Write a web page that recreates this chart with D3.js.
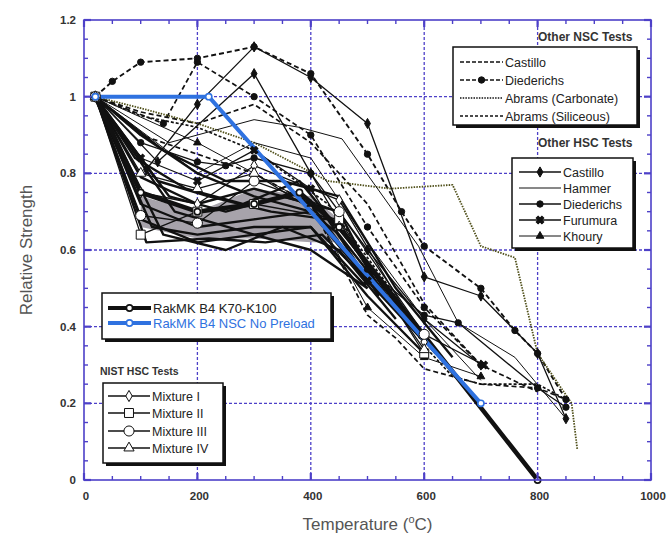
<!DOCTYPE html>
<html>
<head>
<meta charset="utf-8">
<script src="https://cdn.jsdelivr.net/npm/d3@7"></script>
<style>
  body { margin: 0; background: #fff; }
  text { font-family: Arial, "Liberation Sans", sans-serif; }
</style>
</head>
<body>
<svg id="chart" width="669" height="538"></svg>
<script>
// ---- data (temperature in C, relative strength) ----
var xTicks = [0, 200, 400, 600, 800, 1000];
var yTicks = [0, 0.2, 0.4, 0.6, 0.8, 1, 1.2];
var yTickLabels = ["0", "0.2", "0.4", "0.6", "0.8", "1", "1.2"];

// other NSC tests
var nscCastillo   = [[20,1],[100,0.96],[200,0.93],[300,0.98],[400,0.88],[500,0.72],[600,0.46],[700,0.3],[800,0.23]];
var nscCastillo2  = [[20,1],[100,0.9],[200,0.85],[300,0.8],[400,0.72],[500,0.43],[550,0.37],[600,0.29],[700,0.25],[800,0.24],[850,0.21]];
var nscDiederichs = [[20,1],[50,1.04],[100,1.09],[200,1.1],[300,1.13],[400,1.06],[500,0.85],[560,0.7],[600,0.61],[700,0.5],[760,0.39],[800,0.33],[850,0.21]];
var nscDiederichs2= [[20,1],[140,0.93],[200,1.09],[300,1.0],[400,0.9],[500,0.66],[600,0.45],[700,0.3]];
var nscAbramsC    = [[20,1],[100,0.97],[200,0.93],[300,0.88],[430,0.78],[540,0.76],[650,0.77],[700,0.61],[760,0.58],[800,0.33],[860,0.2],[870,0.08]];
var nscAbramsS    = [[20,1],[100,0.95],[200,0.92],[300,0.86],[430,0.72],[540,0.5],[600,0.35],[650,0.27],[700,0.25],[800,0.25],[850,0.21]];

// other HSC tests
var hscCastillo   = [[20,1],[110,0.81],[200,0.98],[300,1.13],[400,1.05],[500,0.93],[600,0.53],[700,0.48],[800,0.33],[850,0.16]];
var hscCastillo2  = [[20,1],[130,0.83],[300,1.06],[400,0.8],[500,0.6],[600,0.42],[700,0.3]];
var hscHammer     = [[20,1],[150,0.88],[300,0.94],[380,0.92],[455,0.89],[590,0.61],[660,0.41],[760,0.32],[850,0.16]];
var hscHammer2    = [[20,1],[200,0.8],[300,0.88],[400,0.84],[500,0.62],[600,0.42],[700,0.26]];
var hscDiederichs = [[20,1],[100,0.88],[200,0.83],[250,0.82],[300,0.84],[400,0.8],[500,0.55],[600,0.43],[660,0.41],[800,0.24],[850,0.19]];
var hscFurumura   = [[20,1],[100,0.84],[200,0.78],[300,0.86],[400,0.76],[500,0.52],[600,0.38],[705,0.3]];
var hscKhoury     = [[20,1],[200,0.88],[300,0.8],[400,0.72],[500,0.45],[600,0.32],[700,0.27]];

// NIST HSC tests
var mixI   = [[20,1],[100,0.75],[200,0.72],[300,0.82],[450,0.73],[600,0.36]];
var mixII  = [[20,1],[100,0.64],[200,0.7],[300,0.72],[450,0.68],[600,0.33]];
var mixIII = [[20,1],[100,0.69],[200,0.67],[300,0.78],[450,0.7],[600,0.38]];
var mixIV  = [[20,1],[100,0.8],[200,0.76],[300,0.8],[450,0.66],[600,0.34]];

// RakMK B4 K70-K100 (individual tests and envelope)
var rak1  = [[20,1],[100,0.79],[200,0.72],[300,0.76],[400,0.72],[500,0.52],[600,0.36]];
var rak2  = [[20,1],[100,0.72],[200,0.66],[300,0.68],[400,0.7],[450,0.64],[550,0.45]];
var rak3  = [[20,1],[120,0.66],[200,0.64],[300,0.66],[400,0.66],[500,0.48],[600,0.33]];
var rak4  = [[20,1],[150,0.74],[250,0.7],[350,0.74],[450,0.7],[520,0.5],[620,0.33]];
var rak5  = [[20,1],[140,0.86],[250,0.78],[350,0.78],[450,0.74],[550,0.5],[650,0.32]];
var rak6  = [[20,1],[110,0.62],[220,0.63],[320,0.62],[420,0.64],[500,0.52],[600,0.38]];
var rak7  = [[20,1],[160,0.7],[300,0.64],[400,0.6],[500,0.5]];
var rak8  = [[20,1],[90,0.84],[180,0.76],[280,0.72],[380,0.78],[480,0.6],[580,0.4]];
var rak9  = [[20,1],[100,0.68],[200,0.62],[300,0.64],[400,0.66],[500,0.5]];
var rak10 = [[20,1],[130,0.78],[220,0.74],[330,0.7],[430,0.68],[520,0.48]];
var rak11 = [[20,1],[100,0.9],[200,0.8],[300,0.74],[400,0.7],[500,0.52]];
var rak12 = [[20,1],[140,0.64],[250,0.6],[350,0.66],[450,0.6],[550,0.42]];
var rakMain = [[20,1],[100,0.75],[200,0.7],[300,0.72],[380,0.75],[450,0.66],[800,0]];
var bandTemps = [100, 200, 300, 400, 450];
var bandUpper = [0.74, 0.7, 0.76, 0.74, 0.68];
var bandLower = [0.66, 0.63, 0.63, 0.62, 0.62];

// RakMK B4 NSC No Preload
var rakNSC = [[20,1],[220,1],[700,0.2]];

// ---- layout ----
var W = 669, H = 538;
var margin = {left: 84, top: 20, right: 18, bottom: 58};
var axisCol = "#4d40c8";

var svg = d3.select("#chart");
svg.append("rect").attr("width", W).attr("height", H).attr("fill", "#fff");

var x = d3.scaleLinear().domain([0, 1000]).range([margin.left, W - margin.right]);
var y = d3.scaleLinear().domain([0, 1.2]).range([H - margin.bottom, margin.top]);

svg.append("clipPath").attr("id", "clip")
  .append("rect").attr("x", x(0)).attr("y", y(1.2))
  .attr("width", x(1000) - x(0)).attr("height", y(0) - y(1.2));

// grid
var grid = svg.append("g");
grid.selectAll(".vg").data([200, 400, 600, 800]).enter().append("line")
  .attr("x1", d => x(d)).attr("x2", d => x(d))
  .attr("y1", y(0)).attr("y2", y(1.2))
  .attr("stroke", axisCol).attr("stroke-width", 1.3).attr("stroke-dasharray", "3,2");
grid.selectAll(".hg").data([0.2, 0.4, 0.6, 0.8, 1.0]).enter().append("line")
  .attr("x1", x(0)).attr("x2", x(1000))
  .attr("y1", d => y(d)).attr("y2", d => y(d))
  .attr("stroke", axisCol).attr("stroke-width", 1.3).attr("stroke-dasharray", "3,2");

var plot = svg.append("g").attr("clip-path", "url(#clip)");

// grey envelope of RakMK K70-K100
var band = bandTemps.map((t, i) => ({t: t, hi: bandUpper[i], lo: bandLower[i]}));
plot.append("path").datum(band)
  .attr("d", d3.area().x(d => x(d.t)).y0(d => y(d.lo)).y1(d => y(d.hi)))
  .attr("fill", "#a7a3ab");

var line = d3.line().x(d => x(d[0])).y(d => y(d[1]));

var series = [
  {data: nscCastillo,    w: 1.7, dash: "5,3"},
  {data: nscCastillo2,   w: 1.7, dash: "5,3"},
  {data: nscDiederichs,  w: 1.9, dash: "5,3", mark: "dot"},
  {data: nscDiederichs2, w: 1.7, dash: "5,3", mark: "dot"},
  {data: nscAbramsC,     w: 1.8, dash: "1.5,1.2", col: "#50501a"},
  {data: nscAbramsS,     w: 1.7, dash: "3,2"},
  {data: hscCastillo,    w: 1.3, mark: "diamond"},
  {data: hscCastillo2,   w: 1.3, mark: "diamond"},
  {data: hscHammer,      w: 1.0},
  {data: hscHammer2,     w: 1.0},
  {data: hscDiederichs,  w: 1.3, mark: "dot"},
  {data: hscFurumura,    w: 1.3, mark: "x"},
  {data: hscKhoury,      w: 1.0, mark: "tri"},
  {data: rak1, w: 2.4}, {data: rak2, w: 2.4}, {data: rak3, w: 2.4}, {data: rak4, w: 2.4},
  {data: rak5, w: 2.4}, {data: rak6, w: 2.4}, {data: rak7, w: 2.4}, {data: rak8, w: 2.4},
  {data: rak9, w: 2.4}, {data: rak10, w: 2.4}, {data: rak11, w: 2.4}, {data: rak12, w: 2.4},
  {data: mixI,   w: 1.3, mark: "odiamond"},
  {data: mixII,  w: 1.3, mark: "osquare"},
  {data: mixIII, w: 1.3, mark: "ocircle"},
  {data: mixIV,  w: 1.3, mark: "otri"},
  {data: rakMain, w: 4.5, mark: "osmall"},
  {data: rakNSC,  w: 4, col: "#2f72e0", mark: "osmallblue"}
];

series.forEach(function(s) {
  plot.append("path").datum(s.data)
    .attr("d", line)
    .attr("fill", "none")
    .attr("stroke", s.col || "#111")
    .attr("stroke-width", s.w)
    .attr("stroke-dasharray", s.dash || null)
    .attr("stroke-linejoin", "round");
});

function drawMark(g, kind, px, py) {
  var sym = null, size = 0, fill = "#111", stroke = "#111", sw = 1;
  if (kind === "dot") { sym = d3.symbolCircle; size = 32; }
  else if (kind === "diamond") { sym = d3.symbolDiamond; size = 30; }
  else if (kind === "tri") { sym = d3.symbolTriangle; size = 26; }
  else if (kind === "x") { sym = d3.symbolCross; size = 36; }
  else if (kind === "odiamond") { sym = d3.symbolDiamond; size = 36; fill = "#fff"; }
  else if (kind === "osquare") { sym = d3.symbolSquare; size = 80; fill = "#fff"; }
  else if (kind === "ocircle") { sym = d3.symbolCircle; size = 80; fill = "#fff"; }
  else if (kind === "otri") { sym = d3.symbolTriangle; size = 45; fill = "#fff"; }
  else if (kind === "osmall") { sym = d3.symbolCircle; size = 30; fill = "#fff"; sw = 1.6; }
  else if (kind === "osmallblue") { sym = d3.symbolCircle; size = 30; fill = "#fff"; stroke = "#2f72e0"; sw = 1.6; }
  if (!sym) return;
  g.append("path").attr("d", d3.symbol().type(sym).size(size)())
    .attr("transform", "translate(" + px + "," + py + ")" + (kind === "x" ? " rotate(45)" : ""))
    .attr("fill", fill).attr("stroke", stroke).attr("stroke-width", sw);
}

var marks = svg.append("g");
series.forEach(function(s) {
  if (!s.mark) return;
  s.data.forEach(function(d) { drawMark(marks, s.mark, x(d[0]), y(d[1])); });
});

// frame and ticks
var frame = svg.append("g");
frame.append("rect").attr("x", x(0)).attr("y", y(1.2))
  .attr("width", x(1000) - x(0)).attr("height", y(0) - y(1.2))
  .attr("fill", "none").attr("stroke", axisCol).attr("stroke-width", 1.6);

var xMinor = d3.range(0, 1001, 50), yMinor = d3.range(0, 1.2001, 0.05);
xMinor.forEach(function(v) {
  var major = v % 200 === 0, len = major ? 7 : 4;
  [[y(0), -len], [y(1.2), len]].forEach(function(e) {
    frame.append("line").attr("x1", x(v)).attr("x2", x(v))
      .attr("y1", e[0]).attr("y2", e[0] + e[1])
      .attr("stroke", axisCol).attr("stroke-width", major ? 2.2 : 1.4);
  });
});
yMinor.forEach(function(v) {
  var major = Math.abs(v / 0.2 - Math.round(v / 0.2)) < 1e-6, len = major ? 7 : 4;
  [[x(0), len], [x(1000), -len]].forEach(function(e) {
    frame.append("line").attr("x1", e[0]).attr("x2", e[0] + e[1])
      .attr("y1", y(v)).attr("y2", y(v))
      .attr("stroke", axisCol).attr("stroke-width", major ? 2.2 : 1.4);
  });
});

// tick labels
svg.selectAll(".xl").data(xTicks).enter().append("text")
  .attr("x", d => x(d) + 2).attr("y", y(0) + 20)
  .attr("text-anchor", "middle").attr("font-size", 11.5).attr("font-weight", "bold")
  .attr("fill", "#333").text(d => d);
svg.selectAll(".yl").data(yTicks).enter().append("text")
  .attr("x", x(0) - 8).attr("y", d => y(d) + 4)
  .attr("text-anchor", "end").attr("font-size", 11.5).attr("font-weight", "bold")
  .attr("fill", "#333").text((d, i) => yTickLabels[i]);

// axis titles
svg.append("text").attr("transform", "translate(32," + ((y(0) + y(1.2)) / 2) + ") rotate(-90)")
  .attr("text-anchor", "middle").attr("font-size", 17).attr("fill", "#555")
  .text("Relative Strength");
var xt = svg.append("text").attr("x", (x(0) + x(1000)) / 2).attr("y", 530)
  .attr("text-anchor", "middle").attr("font-size", 17).attr("fill", "#555");
xt.append("tspan").text("Temperature (");
xt.append("tspan").attr("font-size", 11).attr("dy", -7).text("o");
xt.append("tspan").attr("dy", 7).text("C)");

// ---- legends ----
function legendBox(x0, y0, w, h) {
  svg.append("rect").attr("x", x0 + 3).attr("y", y0 + 3).attr("width", w).attr("height", h).attr("fill", "#111");
  svg.append("rect").attr("x", x0).attr("y", y0).attr("width", w).attr("height", h)
    .attr("fill", "#fff").attr("stroke", "#111").attr("stroke-width", 1.5);
}
function legendItem(lx, ly, len, s, label, tcol, fs) {
  svg.append("line").attr("x1", lx).attr("x2", lx + len).attr("y1", ly).attr("y2", ly)
    .attr("stroke", s.col || "#111").attr("stroke-width", s.w)
    .attr("stroke-dasharray", s.dash || null);
  if (s.mark) drawMark(svg, s.mark, lx + len / 2, ly);
  svg.append("text").attr("x", lx + len + 2).attr("y", ly + 4.5)
    .attr("font-size", fs || 12.5).attr("fill", tcol || "#222").text(label);
}

svg.append("text").attr("x", 538).attr("y", 41)
  .attr("font-size", 12).attr("font-weight", "bold").attr("fill", "#333").text("Other NSC Tests");
legendBox(453, 47, 184, 78);
legendItem(460, 62, 43, {w: 1.6, dash: "4,2"}, "Castillo");
legendItem(460, 80, 43, {w: 1.6, dash: "4,2", mark: "dot"}, "Diederichs");
legendItem(460, 98, 43, {w: 1.6, dash: "1.5,1.2"}, "Abrams (Carbonate)");
legendItem(460, 116, 43, {w: 1.6, dash: "3,2"}, "Abrams (Siliceous)");

svg.append("text").attr("x", 538).attr("y", 147)
  .attr("font-size", 12).attr("font-weight", "bold").attr("fill", "#333").text("Other HSC Tests");
legendBox(512, 158, 121, 90);
legendItem(519, 172, 42, {w: 1.3, mark: "diamond"}, "Castillo");
legendItem(519, 188, 42, {w: 1.0}, "Hammer");
legendItem(519, 204, 42, {w: 1.5, mark: "dot"}, "Diederichs");
legendItem(519, 220, 42, {w: 1.5, mark: "x"}, "Furumura");
legendItem(519, 236, 42, {w: 1.0, mark: "tri"}, "Khoury");

legendBox(102, 293, 229, 46);
legendItem(108, 308, 43, {w: 4, mark: "osmall"}, "RakMK B4 K70-K100", "#222", 13);
legendItem(108, 323, 43, {w: 4, col: "#2f72e0", mark: "osmallblue"}, "RakMK B4 NSC No Preload", "#2f72e0", 13);

svg.append("text").attr("x", 100).attr("y", 375)
  .attr("font-size", 10.5).attr("font-weight", "bold").attr("fill", "#333").text("NIST HSC Tests");
legendBox(103, 383, 120, 80);
legendItem(108, 396, 42, {w: 1.3, mark: "odiamond"}, "Mixture I");
legendItem(108, 413, 42, {w: 1.3, mark: "osquare"}, "Mixture II");
legendItem(108, 431, 42, {w: 1.3, mark: "ocircle"}, "Mixture III");
legendItem(108, 448, 42, {w: 1.3, mark: "otri"}, "Mixture IV");
</script>
</body>
</html>
